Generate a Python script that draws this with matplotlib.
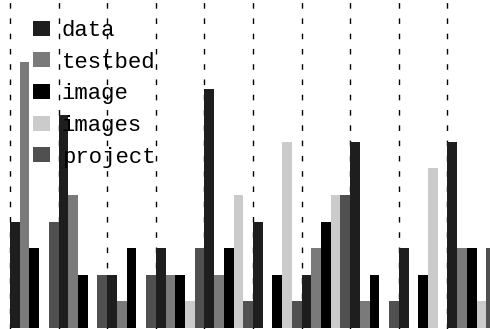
import matplotlib
matplotlib.use("Agg")
import matplotlib.pyplot as plt
import numpy as np

SERIES = ["data", "testbed", "image", "images", "project"]
COLORS = ["#1e1e1e", "#7a7a7a", "#000000", "#cbcbcb", "#505050"]

data = [4, 8, 2, 3, 9, 4, 2, 7, 3, 7]
testbed = [10, 5, 1, 2, 2, 0, 3, 1, 0, 3]
image = [3, 2, 3, 2, 3, 2, 4, 2, 2, 3]
images = [0, 0, 0, 1, 5, 7, 5, 0, 6, 1]
project = [4, 2, 2, 3, 1, 1, 5, 1, 0, 3]

BAR_W = 0.2

fig = plt.figure(figsize=(4.9, 3.29), dpi=100)
ax = fig.add_axes([0, 0, 1, 1])

groups = np.arange(len(data))
for k, (name, vals) in enumerate(zip(SERIES, [data, testbed, image, images, project])):
    ax.bar(groups + k * BAR_W, vals, width=BAR_W, align="edge",
           color=COLORS[k], label=name, zorder=2)

# dashed separators between groups
for g in range(len(data) + 1):
    ax.axvline(g, color="black", linestyle=(0, (4, 7)), linewidth=1.0, zorder=1)

ax.set_xlim(-10 / 48.6, 480 / 48.6)
ax.set_ylim(-1 / 26.6, 328 / 26.6)
ax.axis("off")

leg = ax.legend(loc="upper left", bbox_to_anchor=(33 / 490, 1 - 20 / 329),
                frameon=False, borderaxespad=0, borderpad=0,
                prop={"family": "Liberation Mono", "size": 16},
                handlelength=0.75, handleheight=0.65, handletextpad=0.55,
                labelspacing=0.48)

fig.savefig("out.png", dpi=100)
